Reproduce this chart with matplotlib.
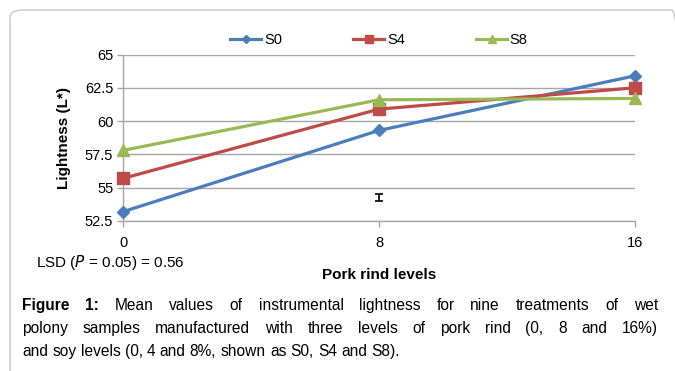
"""
Mean lightness (L*) of wet polony by pork rind level, one line per soy level.
"""
import matplotlib
matplotlib.use("Agg")
import matplotlib.pyplot as plt
from matplotlib.patches import FancyBboxPatch

plt.rcParams["font.family"] = ["Liberation Sans", "DejaVu Sans"]

PORK_RIND = [0, 8, 16]
S0 = [53.2, 59.3, 63.4]
S4 = [55.7, 60.9, 62.5]
S8 = [57.8, 61.6, 61.7]
SERIES = [("S0", S0), ("S4", S4), ("S8", S8)]

LSD_X, LSD_Y, LSD = 8, 54.25, 0.56
Y_TICKS = [52.5, 55, 57.5, 60, 62.5, 65]
Y_LABELS = ["52.5", "55", "57.5", "60", "62.5", "65"]

CAPTION = [
    [("Figure 1:", True), ("Mean values of instrumental lightness for nine treatments of wet", False)],
    [("polony samples manufactured with three levels of pork rind (0, 8 and 16%)", False)],
    [("and soy levels (0, 4 and 8%, shown as S0, S4 and S8).", False)],
]

COLORS = {"S0": "#4A7EBB", "S4": "#BE4B48", "S8": "#98B954"}
MARKERS = {"S0": "D", "S4": "s", "S8": "^"}
MSIZE = {"S0": 6, "S4": 8, "S8": 8}
GRID = "#A6A6A6"


def justify(fig, renderer, parts, x0, x1, y, size, stretch=True):
    # split into words keeping bold flag, then spread across [x0, x1] (pixels)
    words = []
    for text, bold in parts:
        for w in text.split(" "):
            words.append((w, bold))
    texts, widths = [], []
    for w, bold in words:
        t = fig.text(0, 0, w, fontsize=size, fontweight="bold" if bold else "normal",
                     transform=None, va="baseline", color="black")
        texts.append(t)
        widths.append(t.get_window_extent(renderer).width)
    probe = fig.text(0, 0, "a a", fontsize=size)
    probe2 = fig.text(0, 0, "aa", fontsize=size)
    space = probe.get_window_extent(renderer).width - probe2.get_window_extent(renderer).width
    probe.remove()
    probe2.remove()
    if stretch and len(words) > 1:
        gap = (x1 - x0 - sum(widths)) / (len(words) - 1)
    else:
        gap = space
    x = x0
    for t, w in zip(texts, widths):
        t.set_position((x, y))
        x += w + gap


def main():
    W, H = 675, 371
    fig = plt.figure(figsize=(W / 100, H / 100), dpi=100)

    # rounded frame around the figure panel
    frame = FancyBboxPatch((10 / W, -0.2), 1.0, 1.2 - 10 / H,
                           boxstyle="round,pad=0,rounding_size=0.02",
                           transform=fig.transFigure, fill=False,
                           edgecolor="#C8C8C8", linewidth=1.0)
    frame.set_clip_on(False)
    fig.patches.append(frame)

    ax = fig.add_axes([123 / W, 1 - 221 / H, (635 - 123) / W, (221 - 54.5) / H])

    for name, vals in SERIES:
        ax.plot(PORK_RIND, vals, color=COLORS[name], lw=2.3, marker=MARKERS[name],
                ms=MSIZE[name], mec=COLORS[name], mfc=COLORS[name], label=name,
                clip_on=False, zorder=3)

    ax.errorbar([LSD_X], [LSD_Y], yerr=LSD / 2, color="black", lw=1.2,
                capsize=3, capthick=1.2, zorder=3)

    ax.set_xlim(0, 16)
    ax.set_ylim(52.5, 65)
    ax.set_xticks(PORK_RIND)
    ax.set_xticklabels([str(v) for v in PORK_RIND], fontsize=10.5)
    ax.set_yticks(Y_TICKS)
    ax.set_yticklabels(Y_LABELS, fontsize=10.5)
    ax.yaxis.grid(True, color=GRID, lw=1.0)
    ax.set_axisbelow(True)
    for s in ["top", "right"]:
        ax.spines[s].set_visible(False)
    for s in ["left", "bottom"]:
        ax.spines[s].set_color(GRID)
        ax.spines[s].set_linewidth(1.0)
    ax.tick_params(axis="both", color=GRID, length=4, width=1.0, labelcolor="black")
    ax.tick_params(axis="x", pad=7)
    ax.tick_params(axis="y", pad=3)

    ax.set_ylabel("Lightness (L*)", fontsize=11, fontweight="bold", labelpad=10)
    ax.set_xlabel("Pork rind levels", fontsize=11, fontweight="bold", labelpad=13)

    fig.text(36 / W, 1 - 263 / H, r"LSD ($\it{P}$ = 0.05) = 0.56", fontsize=11,
             va="center", ha="left")

    ax.legend(loc="center", bbox_to_anchor=(0.5, 1 + 14 / 166.5), ncol=3, frameon=False,
              fontsize=10.5, handlelength=2.1, columnspacing=4.9, handletextpad=0.2,
              markerscale=0.75)

    fig.canvas.draw()
    renderer = fig.canvas.get_renderer()
    baselines = [H - 310, H - 333, H - 356]
    for i, parts in enumerate(CAPTION):
        justify(fig, renderer, parts, 22, 658, baselines[i], 11.2,
                stretch=(i < len(CAPTION) - 1))

    fig.savefig("out.png", dpi=100)
    plt.close(fig)


if __name__ == "__main__":
    main()
